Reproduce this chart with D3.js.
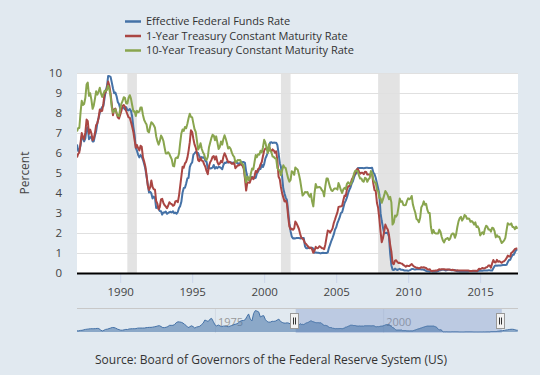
<!DOCTYPE html>
<html><head><meta charset="utf-8">
<script src="https://cdn.jsdelivr.net/npm/d3@7"></script>
<style>
html,body{margin:0;padding:0;background:#e1e9f0;}
svg{display:block;font-family:"Open Sans",sans-serif;}
</style></head>
<body><svg id="c" width="540" height="375"></svg>
<script>
// monthly series, Jan 1987 .. Aug 2017
const fedFunds = [
6.43,6.10,6.13,6.37,6.85,6.73,6.58,6.73,7.22,7.29,6.69,6.77,
6.83,6.58,6.58,6.87,7.09,7.51,7.75,8.01,8.19,8.30,8.35,8.76,
9.12,9.36,9.85,9.84,9.81,9.53,9.24,8.99,9.02,8.84,8.55,8.45,
8.23,8.24,8.28,8.26,8.18,8.29,8.15,8.13,8.20,8.11,7.81,7.31,
6.91,6.25,6.12,5.91,5.78,5.90,5.82,5.66,5.45,5.21,4.81,4.43,
4.03,4.06,3.98,3.73,3.82,3.76,3.25,3.30,3.22,3.10,3.09,2.92,
3.02,3.03,3.07,2.96,3.00,3.04,3.06,3.03,3.09,2.99,3.02,2.96,
3.05,3.25,3.34,3.56,4.01,4.25,4.26,4.47,4.73,4.76,5.29,5.45,
5.53,5.92,5.98,6.05,6.01,6.00,5.85,5.74,5.80,5.76,5.80,5.60,
5.56,5.22,5.31,5.22,5.24,5.27,5.40,5.22,5.30,5.24,5.31,5.29,
5.25,5.19,5.39,5.51,5.50,5.56,5.52,5.54,5.54,5.50,5.52,5.50,
5.56,5.51,5.49,5.45,5.49,5.56,5.54,5.55,5.51,5.07,4.83,4.68,
4.63,4.76,4.81,4.74,4.74,4.76,4.99,5.07,5.22,5.20,5.42,5.30,
5.45,5.73,5.85,6.02,6.27,6.53,6.54,6.50,6.52,6.51,6.51,6.40,
5.98,5.49,5.31,4.80,4.21,3.97,3.77,3.65,3.07,2.49,2.09,1.82,
1.73,1.74,1.73,1.75,1.75,1.75,1.73,1.74,1.75,1.75,1.34,1.24,
1.24,1.26,1.25,1.26,1.26,1.22,1.01,1.03,1.01,1.01,1.00,0.98,
1.00,1.01,1.00,1.00,1.00,1.03,1.26,1.43,1.61,1.76,1.93,2.16,
2.28,2.50,2.63,2.79,3.00,3.04,3.26,3.50,3.62,3.78,4.00,4.16,
4.29,4.49,4.59,4.79,4.94,4.99,5.24,5.25,5.25,5.25,5.25,5.24,
5.25,5.26,5.26,5.25,5.25,5.25,5.26,5.02,4.94,4.76,4.49,4.24,
3.94,2.98,2.61,2.28,1.98,2.00,2.01,2.00,1.81,0.97,0.39,0.16,
0.15,0.22,0.18,0.15,0.18,0.21,0.16,0.16,0.15,0.12,0.12,0.12,
0.11,0.13,0.16,0.20,0.20,0.18,0.18,0.19,0.19,0.19,0.19,0.18,
0.17,0.16,0.14,0.10,0.09,0.09,0.07,0.10,0.08,0.07,0.08,0.07,
0.08,0.10,0.13,0.14,0.16,0.16,0.16,0.13,0.14,0.16,0.16,0.16,
0.14,0.15,0.14,0.15,0.11,0.09,0.09,0.08,0.08,0.09,0.08,0.09,
0.07,0.07,0.08,0.09,0.09,0.10,0.09,0.09,0.09,0.09,0.09,0.12,
0.11,0.11,0.11,0.12,0.12,0.13,0.13,0.14,0.14,0.12,0.12,0.24,
0.34,0.38,0.36,0.37,0.37,0.38,0.39,0.40,0.40,0.40,0.41,0.54,
0.65,0.66,0.79,0.90,0.91,1.04,1.15,1.16];
const oneYear = [
5.78,5.96,6.03,6.50,7.00,6.80,6.68,7.03,7.67,7.59,6.96,7.17,
6.99,6.64,6.71,7.01,7.40,7.49,7.75,8.17,8.09,8.11,8.48,8.99,
9.05,9.25,9.57,9.36,8.98,8.44,7.89,8.18,8.22,7.99,7.77,7.72,
7.92,8.11,8.35,8.40,8.32,8.10,7.94,7.78,7.76,7.55,7.31,7.05,
6.64,6.27,6.40,6.24,6.13,6.36,6.31,5.78,5.57,5.33,4.89,4.38,
4.15,4.29,4.63,4.30,4.19,4.17,3.60,3.47,3.18,3.30,3.68,3.71,
3.50,3.39,3.33,3.24,3.36,3.54,3.47,3.44,3.36,3.39,3.58,3.61,
3.54,3.87,4.32,4.82,5.31,5.27,5.48,5.56,5.76,6.11,6.54,7.14,
7.05,6.70,6.43,6.27,6.00,5.64,5.59,5.75,5.62,5.59,5.43,5.31,
5.09,4.94,5.34,5.54,5.64,5.81,5.85,5.67,5.83,5.55,5.42,5.47,
5.61,5.53,5.80,5.99,5.87,5.69,5.54,5.56,5.52,5.46,5.46,5.53,
5.24,5.31,5.39,5.38,5.44,5.41,5.36,5.21,4.71,4.12,4.53,4.52,
4.51,4.70,4.78,4.69,4.85,5.10,5.03,5.20,5.25,5.43,5.55,5.84,
6.12,6.22,6.22,6.15,6.33,6.17,6.08,6.18,6.13,6.01,6.09,5.60,
4.81,4.68,4.30,3.98,3.78,3.58,3.62,3.47,2.82,2.33,2.18,2.22,
2.16,2.23,2.57,2.48,2.35,2.20,1.96,1.76,1.72,1.65,1.49,1.45,
1.36,1.30,1.24,1.27,1.18,1.01,1.12,1.31,1.24,1.25,1.34,1.31,
1.24,1.24,1.19,1.43,1.78,2.12,2.10,2.02,2.12,2.23,2.50,2.67,
2.86,3.03,3.30,3.32,3.33,3.36,3.64,3.87,3.85,4.18,4.33,4.35,
4.45,4.68,4.77,4.90,5.00,5.16,5.22,5.08,4.97,5.01,5.01,4.94,
5.06,5.05,4.92,4.93,4.91,4.96,4.96,4.47,4.14,4.10,3.50,3.26,
2.71,2.05,1.54,1.74,2.06,2.42,2.28,2.18,1.91,1.42,1.07,0.49,
0.44,0.62,0.64,0.55,0.50,0.51,0.48,0.46,0.40,0.37,0.31,0.37,
0.35,0.35,0.40,0.45,0.37,0.32,0.29,0.26,0.26,0.23,0.25,0.29,
0.27,0.29,0.26,0.25,0.19,0.18,0.19,0.11,0.10,0.11,0.11,0.12,
0.12,0.16,0.19,0.18,0.19,0.19,0.19,0.18,0.18,0.18,0.18,0.16,
0.15,0.16,0.15,0.12,0.12,0.14,0.12,0.13,0.12,0.12,0.12,0.13,
0.12,0.12,0.13,0.11,0.10,0.10,0.11,0.11,0.11,0.10,0.13,0.21,
0.20,0.22,0.25,0.23,0.24,0.28,0.30,0.38,0.37,0.26,0.48,0.65,
0.54,0.53,0.66,0.56,0.59,0.55,0.51,0.57,0.59,0.66,0.74,0.87,
0.83,0.82,1.01,1.04,1.12,1.20,1.22,1.23];
const tenYear = [
7.08,7.25,7.25,8.02,8.61,8.40,8.45,8.76,9.42,9.52,8.86,8.99,
8.67,8.21,8.37,8.72,9.09,8.92,9.06,9.26,8.98,8.80,8.96,9.11,
9.09,9.17,9.36,9.18,8.86,8.28,8.02,8.11,8.19,8.01,7.87,7.84,
8.21,8.47,8.59,8.79,8.76,8.48,8.47,8.75,8.89,8.72,8.39,8.08,
8.09,7.85,8.11,8.04,8.07,8.28,8.27,7.90,7.65,7.53,7.42,7.09,
7.03,7.34,7.54,7.48,7.39,7.26,6.84,6.59,6.42,6.59,6.87,6.77,
6.60,6.26,5.98,5.97,6.04,5.96,5.81,5.68,5.36,5.33,5.72,5.77,
5.75,5.97,6.48,6.97,7.18,7.10,7.30,7.24,7.46,7.74,7.96,7.81,
7.78,7.47,7.20,7.06,6.63,6.17,6.28,6.49,6.20,6.04,5.93,5.71,
5.65,5.81,6.27,6.51,6.74,6.91,6.87,6.64,6.83,6.53,6.20,6.30,
6.58,6.42,6.69,6.89,6.71,6.49,6.22,6.30,6.21,6.03,5.88,5.81,
5.54,5.57,5.65,5.64,5.65,5.50,5.46,5.34,4.81,4.53,4.83,4.65,
4.72,5.00,5.23,5.18,5.54,5.90,5.79,5.94,5.92,6.11,6.03,6.28,
6.66,6.52,6.26,5.99,6.44,6.10,6.05,5.83,5.80,5.74,5.72,5.24,
5.16,5.10,4.89,5.14,5.39,5.28,5.24,4.97,4.73,4.57,4.65,5.09,
5.04,4.91,5.28,5.21,5.16,4.93,4.65,4.26,3.87,3.94,4.05,4.03,
4.05,3.90,3.81,3.96,3.57,3.33,3.98,4.45,4.27,4.29,4.30,4.27,
4.15,4.08,3.83,4.35,4.72,4.73,4.50,4.28,4.13,4.10,4.19,4.23,
4.22,4.17,4.50,4.34,4.14,4.00,4.18,4.26,4.20,4.46,4.54,4.47,
4.42,4.57,4.72,4.99,5.11,5.11,5.09,4.88,4.72,4.73,4.60,4.56,
4.76,4.72,4.56,4.69,4.75,5.10,5.00,4.67,4.52,4.53,4.15,4.10,
3.74,3.74,3.51,3.68,3.88,4.10,4.01,3.89,3.69,3.81,3.53,2.42,
2.52,2.87,2.82,2.93,3.29,3.72,3.56,3.59,3.40,3.39,3.40,3.59,
3.73,3.69,3.73,3.85,3.42,3.20,3.01,2.70,2.65,2.54,2.76,3.29,
3.39,3.58,3.41,3.46,3.17,3.00,3.00,2.30,1.98,2.15,2.01,1.98,
1.97,1.97,2.17,2.05,1.80,1.62,1.53,1.68,1.72,1.75,1.65,1.72,
1.91,1.98,1.96,1.76,1.93,2.30,2.58,2.74,2.81,2.62,2.72,2.90,
2.86,2.71,2.72,2.71,2.56,2.60,2.54,2.42,2.53,2.30,2.33,2.21,
1.88,1.98,2.04,1.94,2.20,2.36,2.32,2.17,2.17,2.07,2.26,2.24,
2.09,1.78,1.89,1.81,1.81,1.64,1.50,1.56,1.63,1.76,2.14,2.49,
2.43,2.42,2.48,2.30,2.30,2.19,2.32,2.21];

// navigator: quarterly fed funds 1954Q3..1986Q4, then monthly above, then quarterly 2017Q4..2019Q4
const navEarly = [
1.0,1.0,
1.4,1.5,1.9,2.3, 2.5,2.7,2.9,2.9, 2.9,3.0,3.2,3.0, 1.8,0.9,1.5,2.3,
2.5,3.0,3.5,4.0, 3.9,3.4,2.6,2.1, 1.6,1.6,1.9,2.3, 2.2,2.7,2.8,2.9,
2.9,3.0,3.4,3.5, 3.5,3.5,3.5,3.8, 4.0,4.1,4.1,4.3, 4.6,4.9,5.4,5.6,
4.8,3.9,3.9,4.2, 4.8,5.9,5.9,5.9, 6.6,8.3,9.0,8.9, 8.6,7.9,6.7,5.6,
3.9,4.6,5.5,4.8, 3.5,4.3,4.7,5.1, 6.5,7.8,10.6,10.0, 9.3,11.3,12.1,9.4,
6.3,5.4,6.2,5.4, 4.8,5.2,5.3,4.9, 4.7,5.2,5.8,6.5, 6.8,7.3,8.1,9.6,
10.1,10.2,10.9,13.6, 16.0,11.5,9.8,16.5, 19.0,18.5,17.8,13.3, 14.2,14.5,11.0,9.3,
8.7,8.8,9.5,9.4, 9.7,10.6,11.4,9.3, 8.5,7.9,7.9,8.1, 7.8,6.9,6.2,6.3];
const navLate = [1.2, 1.45,1.74,1.92,2.22, 2.40,2.40,2.19,1.64, 1.55];

const seriesNames = ["Effective Federal Funds Rate","1-Year Treasury Constant Maturity Rate","10-Year Treasury Constant Maturity Rate"];
const seriesColors = ["#4572a7","#aa4643","#89a54e"];
const recessions = [["1990-07-01","1991-03-01"],["2001-03-01","2001-11-01"],["2007-12-01","2009-06-01"]];
const yTicks = [0,1,2,3,4,5,6,7,8,9,10];
const xTickYears = [1990,1995,2000,2005,2010,2015];
const navTickYears = [1975,2000];

const svg = d3.select("#c");
const P = {l:77, r:518, t:73, b:273};
const start = new Date(1987,0,1);
const monthDates = fedFunds.map((_,i)=>d3.timeMonth.offset(start,i));
const x = d3.scaleTime().domain([start,new Date(2017,7,18)]).range([P.l,P.r]);
const y = d3.scaleLinear().domain([0,10]).range([P.b,P.t]);

// plot background
svg.append("rect").attr("x",P.l).attr("y",P.t).attr("width",P.r-P.l).attr("height",P.b-P.t).attr("fill","#fff");
// recessions
const parse = d3.timeParse("%Y-%m-%d");
svg.append("g").selectAll("rect").data(recessions).join("rect")
  .attr("x",d=>x(parse(d[0]))).attr("width",d=>x(parse(d[1]))-x(parse(d[0])))
  .attr("y",P.t).attr("height",P.b-P.t).attr("fill","#e3e3e3");
// gridlines + y labels
const yAxis = d3.axisLeft(y).tickValues(yTicks).tickSize(-(P.r-P.l)).tickPadding(15).tickFormat(d3.format("d"));
const gy = svg.append("g").attr("transform",`translate(${P.l},0)`).call(yAxis);
gy.select(".domain").remove();
gy.selectAll(".tick line").attr("stroke","#e0e0e0").attr("stroke-width",1);
gy.selectAll(".tick text").attr("fill","#444").attr("font-size",11.5).attr("font-family","Open Sans");
svg.append("text").attr("transform","translate(29,173) rotate(-90)").attr("text-anchor","middle")
  .attr("fill","#444").attr("font-size",12).text("Percent");

// x axis
const xAxis = d3.axisBottom(x).tickValues(xTickYears.map(yv=>new Date(yv,0,1))).tickSize(10).tickPadding(5).tickFormat(d3.timeFormat("%Y"));
const gx = svg.append("g").attr("transform",`translate(0,${P.b})`).call(xAxis);
gx.select(".domain").remove();
gx.selectAll(".tick line").attr("stroke","#ccd6eb");
gx.selectAll(".tick text").attr("fill","#444").attr("font-size",11.5).attr("font-family","Open Sans");

// lines
svg.append("clipPath").attr("id","clip").append("rect").attr("x",P.l).attr("y",P.t-5).attr("width",P.r-P.l).attr("height",P.b-P.t+10);
const line = d3.line().x((d,i)=>x(monthDates[i])).y(d=>y(d));
const gl = svg.append("g").attr("clip-path","url(#clip)");
[fedFunds,oneYear,tenYear].forEach((s,k)=>{
  gl.append("path").datum(s).attr("d",line).attr("fill","none").attr("stroke",seriesColors[k]).attr("stroke-width",2).attr("stroke-linejoin","round");
});
// baseline
svg.append("line").attr("x1",P.l).attr("x2",P.r).attr("y1",P.b+0.5).attr("y2",P.b+0.5).attr("stroke","#000").attr("stroke-width",2);

// legend
const lg = svg.append("g");
seriesNames.forEach((n,k)=>{
  const yy = 21.5 + k*14.5;
  lg.append("line").attr("x1",125).attr("x2",141).attr("y1",yy).attr("y2",yy).attr("stroke",seriesColors[k]).attr("stroke-width",2.5);
  lg.append("text").attr("x",146).attr("y",yy).attr("dy","0.35em").attr("font-size",11).attr("fill","#333").text(n);
});

// navigator
const N = {t:308, b:333};
const navDates = [], navVals = [];
navEarly.forEach((v,i)=>{navDates.push(d3.timeMonth.offset(new Date(1954,6,1),i*3)); navVals.push(v);});
fedFunds.forEach((v,i)=>{navDates.push(monthDates[i]); navVals.push(v);});
navLate.forEach((v,i)=>{navDates.push(d3.timeMonth.offset(new Date(2017,9,1),i*3)); navVals.push(v);});
const nx = d3.scaleTime().domain([new Date(1954,6,1),new Date(2020,0,15)]).range([P.l,P.r]);
const ny = d3.scaleLinear().domain([0,19.5]).range([N.b-1,N.t+2]);
// nav grid lines & labels
navTickYears.forEach(yv=>{
  const xx = nx(new Date(yv,0,1));
  svg.append("line").attr("x1",xx+0.5).attr("x2",xx+0.5).attr("y1",N.t).attr("y2",N.b).attr("stroke","#d4dbe3");
  svg.append("text").attr("x",xx+3).attr("y",N.t+18).attr("font-size",11).attr("fill","#999").text(yv);
});
// mask
const sx0 = nx(start), sx1 = nx(new Date(2017,7,18));
svg.append("rect").attr("x",sx0).attr("y",N.t).attr("width",sx1-sx0).attr("height",N.b-N.t).attr("fill","rgba(102,133,194,0.3)");
const area = d3.area().x((d,i)=>nx(navDates[i])).y0(N.b-1).y1(d=>ny(d));
const nline = d3.line().x((d,i)=>nx(navDates[i])).y(d=>ny(d));
svg.append("path").datum(navVals).attr("d",area).attr("fill","rgba(69,114,167,0.55)");
svg.append("path").datum(navVals).attr("d",nline).attr("fill","none").attr("stroke","#4572a7").attr("stroke-width",1);
svg.append("line").attr("x1",P.l).attr("x2",P.r).attr("y1",N.t+0.5).attr("y2",N.t+0.5).attr("stroke","#c8c8c8");
// handles
[sx0,sx1].forEach(hx=>{
  const g = svg.append("g").attr("transform",`translate(${Math.round(hx)-5.5},${N.t+5.5})`);
  g.append("rect").attr("width",8).attr("height",15).attr("fill","#f2f2f2").attr("stroke","#999");
  g.append("line").attr("x1",3).attr("x2",3).attr("y1",4).attr("y2",11).attr("stroke","#333");
  g.append("line").attr("x1",5).attr("x2",5).attr("y1",4).attr("y2",11).attr("stroke","#333");
});

// source
svg.append("text").attr("x",271).attr("y",360).attr("dy","0.35em").attr("text-anchor","middle")
  .attr("font-size",12).attr("fill","#333").text("Source: Board of Governors of the Federal Reserve System (US)");
</script></body></html>
